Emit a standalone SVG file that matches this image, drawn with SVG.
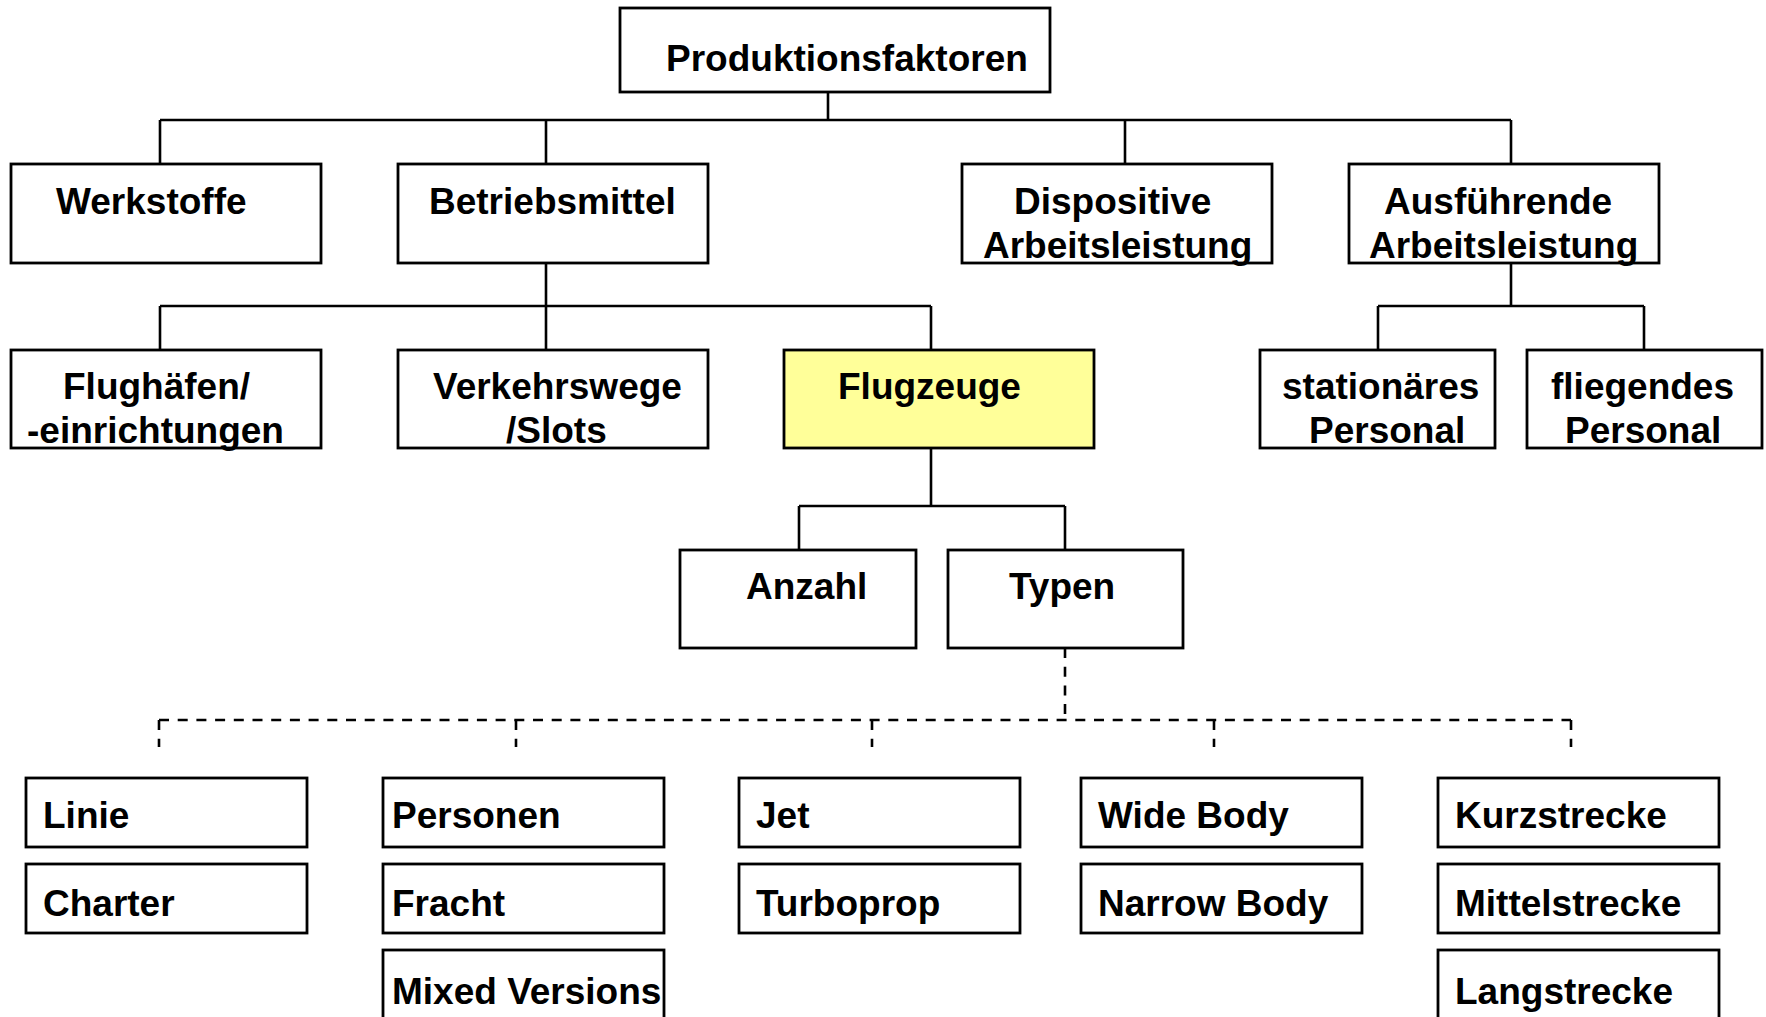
<svg xmlns="http://www.w3.org/2000/svg" width="1766" height="1017" viewBox="0 0 1766 1017">
  <style>
    .box { fill: #ffffff; stroke: #000000; stroke-width: 2.8; }
    .hl { fill: #ffff99; }
    .lbl { font-family: "Liberation Sans", Arial, sans-serif; font-weight: bold; font-size: 37px; fill: #000000; }
    .ln { fill: none; stroke: #000000; stroke-width: 2.6; }
    .dash { fill: none; stroke: #000000; stroke-width: 2.6; stroke-dasharray: 10 8.7; }
  </style>
  <rect width="1766" height="1017" fill="#ffffff"/>

  <!-- connectors -->
  <g id="connectors">
    <path class="ln" d="M828,92 V120 M160,120 H1511 M160,120 V164 M546,120 V164 M1125,120 V164 M1511,120 V164"/>
    <path class="ln" d="M546,263 V306 M160,306 H931 M160,306 V350 M546,306 V350 M931,306 V350"/>
    <path class="ln" d="M1511,263 V306 M1378,306 H1644 M1378,306 V350 M1644,306 V350"/>
    <path class="ln" d="M931,448 V506 M799,506 H1065 M799,506 V550 M1065,506 V550"/>
    <path class="dash" d="M1065,648 V720"/>
    <path class="dash" d="M159,720 H1571"/>
    <path class="dash" d="M159,720 V747 M516,720 V747 M872,720 V747 M1214,720 V747 M1571,720 V747"/>
  </g>

  <!-- level 0 -->
  <g id="produktionsfaktoren">
    <rect class="box" x="620" y="8" width="430" height="84"/>
    <text class="lbl" x="666" y="71">Produktionsfaktoren</text>
  </g>

  <!-- level 1 -->
  <g id="werkstoffe">
    <rect class="box" x="11" y="164" width="310" height="99"/>
    <text class="lbl" x="56" y="214">Werkstoffe</text>
  </g>
  <g id="betriebsmittel">
    <rect class="box" x="398" y="164" width="310" height="99"/>
    <text class="lbl" x="429" y="214">Betriebsmittel</text>
  </g>
  <g id="dispositive">
    <rect class="box" x="962" y="164" width="310" height="99"/>
    <text class="lbl" x="1014" y="214">Dispositive</text>
    <text class="lbl" x="983" y="258">Arbeitsleistung</text>
  </g>
  <g id="ausfuehrende">
    <rect class="box" x="1349" y="164" width="310" height="99"/>
    <text class="lbl" x="1384" y="214">Ausführende</text>
    <text class="lbl" x="1369" y="258">Arbeitsleistung</text>
  </g>

  <!-- level 2 -->
  <g id="flughaefen">
    <rect class="box" x="11" y="350" width="310" height="98"/>
    <text class="lbl" x="63" y="399">Flughäfen/</text>
    <text class="lbl" x="27" y="443">-einrichtungen</text>
  </g>
  <g id="verkehrswege">
    <rect class="box" x="398" y="350" width="310" height="98"/>
    <text class="lbl" x="433" y="399">Verkehrswege</text>
    <text class="lbl" x="506" y="443">/Slots</text>
  </g>
  <g id="flugzeuge">
    <rect class="box hl" x="784" y="350" width="310" height="98"/>
    <text class="lbl" x="838" y="399">Flugzeuge</text>
  </g>
  <g id="stationaeres">
    <rect class="box" x="1260" y="350" width="235" height="98"/>
    <text class="lbl" x="1282" y="399">stationäres</text>
    <text class="lbl" x="1309" y="443">Personal</text>
  </g>
  <g id="fliegendes">
    <rect class="box" x="1527" y="350" width="235" height="98"/>
    <text class="lbl" x="1551" y="399">fliegendes</text>
    <text class="lbl" x="1565" y="443">Personal</text>
  </g>

  <!-- level 3 -->
  <g id="anzahl">
    <rect class="box" x="680" y="550" width="236" height="98"/>
    <text class="lbl" x="746" y="599">Anzahl</text>
  </g>
  <g id="typen">
    <rect class="box" x="948" y="550" width="235" height="98"/>
    <text class="lbl" x="1009" y="599">Typen</text>
  </g>

  <!-- level 4 -->
  <g id="linie">
    <rect class="box" x="26" y="778" width="281" height="69"/>
    <text class="lbl" x="43" y="828">Linie</text>
  </g>
  <g id="charter">
    <rect class="box" x="26" y="864" width="281" height="69"/>
    <text class="lbl" x="43" y="916">Charter</text>
  </g>
  <g id="personen">
    <rect class="box" x="383" y="778" width="281" height="69"/>
    <text class="lbl" x="392" y="828">Personen</text>
  </g>
  <g id="fracht">
    <rect class="box" x="383" y="864" width="281" height="69"/>
    <text class="lbl" x="392" y="916">Fracht</text>
  </g>
  <g id="mixed-versions">
    <rect class="box" x="383" y="950" width="281" height="80"/>
    <text class="lbl" x="392" y="1004">Mixed Versions</text>
  </g>
  <g id="jet">
    <rect class="box" x="739" y="778" width="281" height="69"/>
    <text class="lbl" x="756" y="828">Jet</text>
  </g>
  <g id="turboprop">
    <rect class="box" x="739" y="864" width="281" height="69"/>
    <text class="lbl" x="756" y="916">Turboprop</text>
  </g>
  <g id="wide-body">
    <rect class="box" x="1081" y="778" width="281" height="69"/>
    <text class="lbl" x="1098" y="828">Wide Body</text>
  </g>
  <g id="narrow-body">
    <rect class="box" x="1081" y="864" width="281" height="69"/>
    <text class="lbl" x="1098" y="916">Narrow Body</text>
  </g>
  <g id="kurzstrecke">
    <rect class="box" x="1438" y="778" width="281" height="69"/>
    <text class="lbl" x="1455" y="828">Kurzstrecke</text>
  </g>
  <g id="mittelstrecke">
    <rect class="box" x="1438" y="864" width="281" height="69"/>
    <text class="lbl" x="1455" y="916">Mittelstrecke</text>
  </g>
  <g id="langstrecke">
    <rect class="box" x="1438" y="950" width="281" height="80"/>
    <text class="lbl" x="1455" y="1004">Langstrecke</text>
  </g>
</svg>
